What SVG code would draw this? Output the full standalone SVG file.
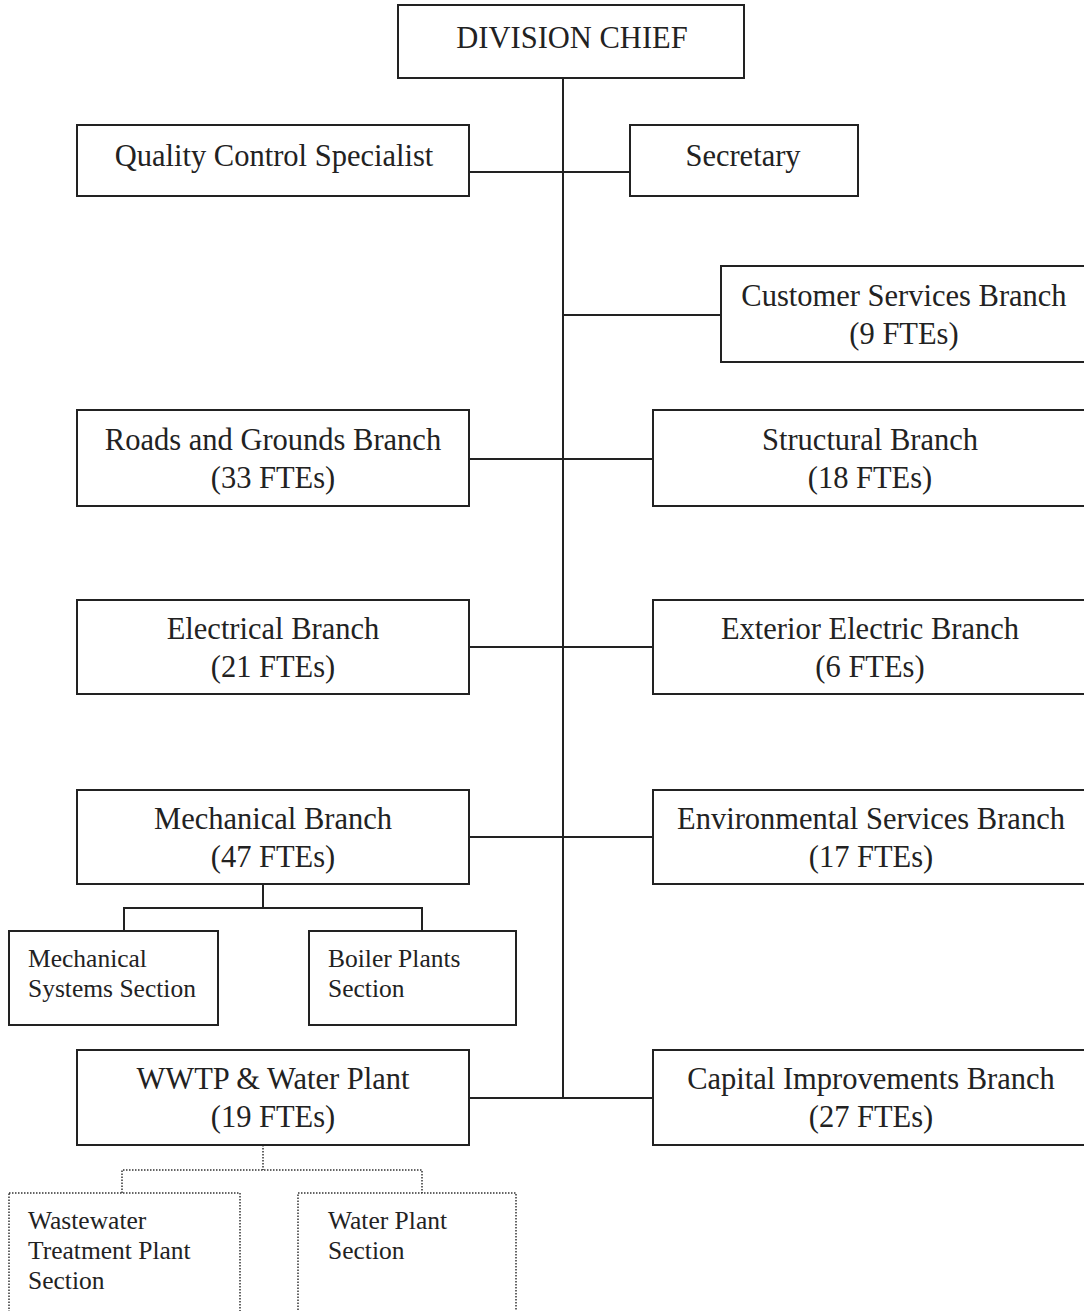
<svg xmlns="http://www.w3.org/2000/svg" width="1084" height="1311" viewBox="0 0 1084 1311">
<style>
.box{fill:#fff;stroke:#222;stroke-width:2}
.dbox{fill:#fff;stroke:#333;stroke-width:1.5;stroke-dasharray:1.5 1.5}
.ln{fill:none;stroke:#222;stroke-width:2}
.dln{fill:none;stroke:#333;stroke-width:1.5;stroke-dasharray:1.5 1.5}
.t{font-family:"Liberation Serif","Times New Roman",serif;font-size:30.5px;fill:#222;text-anchor:middle}
.s{font-family:"Liberation Serif","Times New Roman",serif;font-size:25.5px;fill:#222}
</style>
<rect width="1084" height="1311" fill="#fff"/>
<g id="connectors">
<path class="ln" d="M563 78V1098"/>
<path class="ln" d="M469 172H630"/>
<path class="ln" d="M563 315H721"/>
<path class="ln" d="M469 459H653"/>
<path class="ln" d="M469 647H653"/>
<path class="ln" d="M469 837H653"/>
<path class="ln" d="M469 1098H653"/>
<path class="ln" d="M263 884V908M124 931V908H422V931"/>
<path class="dln" d="M263 1145V1170M122 1193V1170H422V1193"/>
</g>
<g id="division-chief"><rect class="box" x="398" y="5" width="346" height="73"/><text class="t" x="572" y="48">DIVISION CHIEF</text></g>
<g id="quality-control"><rect class="box" x="77" y="125" width="392" height="71"/><text class="t" x="274" y="166">Quality Control Specialist</text></g>
<g id="secretary"><rect class="box" x="630" y="125" width="228" height="71"/><text class="t" x="743" y="166">Secretary</text></g>
<g id="customer-services"><rect class="box" x="721" y="266" width="370" height="96"/><text class="t" x="904" y="306">Customer Services Branch</text><text class="t" x="904" y="344">(9 FTEs)</text></g>
<g id="roads-grounds"><rect class="box" x="77" y="410" width="392" height="96"/><text class="t" x="273" y="450">Roads and Grounds Branch</text><text class="t" x="273" y="488">(33 FTEs)</text></g>
<g id="structural"><rect class="box" x="653" y="410" width="438" height="96"/><text class="t" x="870" y="450">Structural Branch</text><text class="t" x="870" y="488">(18 FTEs)</text></g>
<g id="electrical"><rect class="box" x="77" y="600" width="392" height="94"/><text class="t" x="273" y="639">Electrical Branch</text><text class="t" x="273" y="677">(21 FTEs)</text></g>
<g id="exterior-electric"><rect class="box" x="653" y="600" width="438" height="94"/><text class="t" x="870" y="639">Exterior Electric Branch</text><text class="t" x="870" y="677">(6 FTEs)</text></g>
<g id="mechanical"><rect class="box" x="77" y="790" width="392" height="94"/><text class="t" x="273" y="829">Mechanical Branch</text><text class="t" x="273" y="867">(47 FTEs)</text></g>
<g id="environmental"><rect class="box" x="653" y="790" width="438" height="94"/><text class="t" x="871" y="829">Environmental Services Branch</text><text class="t" x="871" y="867">(17 FTEs)</text></g>
<g id="mech-systems"><rect class="box" x="9" y="931" width="209" height="94"/><text class="s" x="28" y="967">Mechanical</text><text class="s" x="28" y="997">Systems Section</text></g>
<g id="boiler-plants"><rect class="box" x="309" y="931" width="207" height="94"/><text class="s" x="328" y="967">Boiler Plants</text><text class="s" x="328" y="997">Section</text></g>
<g id="wwtp"><rect class="box" x="77" y="1050" width="392" height="95"/><text class="t" x="273" y="1089">WWTP &amp; Water Plant</text><text class="t" x="273" y="1127">(19 FTEs)</text></g>
<g id="capital-improvements"><rect class="box" x="653" y="1050" width="438" height="95"/><text class="t" x="871" y="1089">Capital Improvements Branch</text><text class="t" x="871" y="1127">(27 FTEs)</text></g>
<g id="wastewater"><rect class="dbox" x="9" y="1193" width="231" height="130"/><text class="s" x="28" y="1229">Wastewater</text><text class="s" x="28" y="1259">Treatment Plant</text><text class="s" x="28" y="1289">Section</text></g>
<g id="water-plant"><rect class="dbox" x="298" y="1193" width="218" height="130"/><text class="s" x="328" y="1229">Water Plant</text><text class="s" x="328" y="1259">Section</text></g>
</svg>
